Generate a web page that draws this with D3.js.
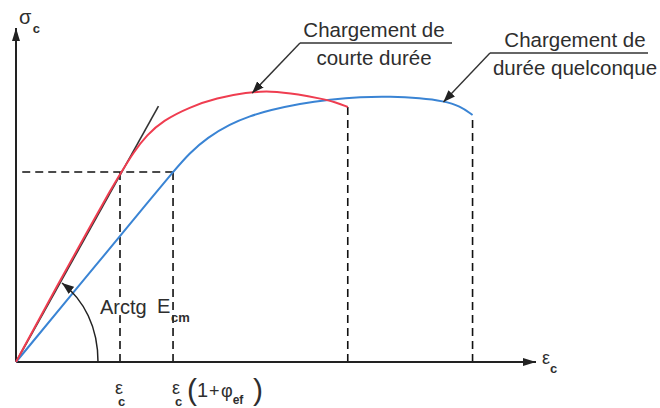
<!DOCTYPE html>
<html>
<head>
<meta charset="utf-8">
<script src="https://cdnjs.cloudflare.com/ajax/libs/d3/7.8.5/d3.min.js"></script>
<style>
body { margin: 0; background: #fff; }
text { font-family: "Liberation Sans", Arial, sans-serif; fill: #2e2e2e; }
</style>
</head>
<body>
<div id="svg-container"></div>
<script>
// strain (per mille) and stress (MPa)
let shortStrain = [0, 0.41, 0.71, 0.9, 1.02, 1.13, 1.26, 1.41, 1.67, 1.93, 2.22, 2.44, 2.73, 2.92, 3.07, 3.19];
let shortStress = [0, 11.83, 20.21, 25.5, 28.59, 31.4, 34.0, 36.1, 38.17, 39.52, 40.35, 40.6, 40.05, 39.45, 38.92, 38.17];
let longStrain = [0, 0.81, 1.3, 1.51, 1.67, 1.84, 2.06, 2.25, 2.44, 2.73, 3.02, 3.31, 3.6, 3.89, 4.11, 4.27, 4.39];
let longStress = [0, 15.27, 24.5, 28.44, 31.3, 33.6, 35.63, 36.83, 37.7, 38.7, 39.3, 39.68, 39.75, 39.5, 39.07, 38.32, 36.98];
let tangentStrain = [0, 1.37];
let tangentStress = [0, 38.3];
let dropStrain = [1.0, 1.51, 3.19, 4.39];
let dropStress = [28.44, 28.44, 38.17, 36.98];
let levelStrain = [0.06, 1.51];
let levelStress = 28.44;

let w = 660;
let h = 408;

let svg = d3.select('#svg-container').
append('svg').
attr('width', w).
attr('height', h);

let x = d3.scaleLinear().domain([0, 5]).range([16, 536]);
let y = d3.scaleLinear().domain([0, 50]).range([362, 28]);

let defs = svg.append('defs');
function marker(id, len, wid) {
  defs.append('marker').
  attr('id', id).
  attr('markerUnits', 'userSpaceOnUse').
  attr('markerWidth', len).
  attr('markerHeight', wid).
  attr('refX', len).
  attr('refY', wid / 2).
  attr('orient', 'auto').
  append('path').
  attr('d', 'M0,0 L' + len + ',' + wid / 2 + ' L0,' + wid + ' z').
  attr('fill', '#222');
}
marker('axisHead', 13, 8);
marker('leadHead', 12, 9);

// dashed guides
svg.append('line').
attr('x1', x(levelStrain[0])).
attr('x2', x(levelStrain[1])).
attr('y1', y(levelStress)).
attr('y2', y(levelStress)).
attr('stroke', '#111').
attr('stroke-width', 1.6).
attr('stroke-dasharray', '8,5');

svg.selectAll('.drop').
data(dropStrain).
join('line').
attr('class', 'drop').
attr('x1', d => x(d)).
attr('x2', d => x(d)).
attr('y1', y(0)).
attr('y2', (d, i) => y(dropStress[i])).
attr('stroke', '#111').
attr('stroke-width', 1.6).
attr('stroke-dasharray', '8,5');

// axes
svg.append('line').
attr('x1', x(0)).attr('y1', y(0)).
attr('x2', x(0)).attr('y2', y(50)).
attr('stroke', '#222').attr('stroke-width', 2).
attr('marker-end', 'url(#axisHead)');

svg.append('line').
attr('x1', x(0)).attr('y1', y(0)).
attr('x2', x(5)).attr('y2', y(0)).
attr('stroke', '#222').attr('stroke-width', 2).
attr('marker-end', 'url(#axisHead)');

let line = d3.line().
x(d => x(d[0])).
y(d => y(d[1])).
curve(d3.curveBasis);

// tangent
svg.append('line').
attr('x1', x(tangentStrain[0])).attr('y1', y(tangentStress[0])).
attr('x2', x(tangentStrain[1])).attr('y2', y(tangentStress[1])).
attr('stroke', '#333').attr('stroke-width', 1.6);

svg.append('path').
attr('d', line(longStrain.map((d, i) => [d, longStress[i]]))).
attr('fill', 'none').
attr('stroke', '#3a84d4').
attr('stroke-width', 2);

svg.append('path').
attr('d', line(shortStrain.map((d, i) => [d, shortStress[i]]))).
attr('fill', 'none').
attr('stroke', '#ef3d50').
attr('stroke-width', 2);

// angle arrow
let ox = x(0), oy = y(0);
svg.append('path').
attr('d', 'M' + (ox + 82) + ',' + oy + ' C' + (ox + 82) + ',' + (oy - 35) + ' ' + (ox + 68) + ',' + (oy - 62) + ' ' + (ox + 46) + ',' + (oy - 79)).
attr('fill', 'none').
attr('stroke', '#222').
attr('stroke-width', 1.5).
attr('marker-end', 'url(#leadHead)');

// callouts
function callout(lines, cx, base, ux0, ux1, uy, tip) {
  svg.append('line').
  attr('x1', ux0).attr('x2', ux1).attr('y1', uy).attr('y2', uy).
  attr('stroke', '#333').attr('stroke-width', 1.4);
  svg.append('line').
  attr('x1', ux0).attr('y1', uy).
  attr('x2', tip[0]).attr('y2', tip[1]).
  attr('stroke', '#333').attr('stroke-width', 1.4).
  attr('marker-end', 'url(#leadHead)');
  svg.selectAll(null).
  data(lines).
  join('text').
  attr('x', cx).
  attr('y', (d, i) => base + i * 28).
  attr('text-anchor', 'middle').
  style('font-size', '20.5px').
  text(d => d);
}
callout(['Chargement de', 'courte durée'], 374, 37, 300, 452, 43, [x(2.27), y(40.4) + 1]);
callout(['Chargement de', 'durée quelconque'], 575, 47, 490, 648, 53, [x(4.11), y(39.07) + 1]);

// symbol with subscript, one text element
function sub(main, s, px, py, mainSize, subDx, subDy) {
  let t = svg.append('text').attr('x', px).attr('y', py);
  t.append('tspan').style('font-size', mainSize + 'px').text(main);
  t.append('tspan').attr('dx', subDx).attr('dy', subDy).
  style('font-size', '13px').style('font-weight', 'bold').text(s);
}
sub('σ', 'c', 19, 24, 20, 1.5, 9);
sub('ε', 'c', 542, 364, 18, 0, 9);
sub('ε', 'c', x(1.0) - 5, 394, 18, -5, 12);
sub('ε', 'c', x(1.51) - 1, 394, 18, -5, 12);
sub('E', 'cm', 157, 313, 20, 0.7, 9);

svg.append('text').attr('x', 100).attr('y', 314).
style('font-size', '20px').
attr('stroke', '#fff').attr('stroke-width', 5).attr('paint-order', 'stroke').
text('Arctg');

// (1 + φef)
let g2 = svg.append('g');
g2.append('text').attr('x', 187).attr('y', 400).style('font-size', '30px').style('font-weight', '300').text('(');
g2.append('text').attr('x', 197).attr('y', 397).style('font-size', '20px').text('1');
g2.append('text').attr('x', 209).attr('y', 397).style('font-size', '18px').text('+');
g2.append('text').attr('x', 221).attr('y', 397).
call(t => t.append('tspan').style('font-size', '18px').text('φ')).
call(t => t.append('tspan').attr('dy', 7).style('font-size', '12px').style('font-weight', 'bold').text('ef'));
g2.append('text').attr('x', 253).attr('y', 400).style('font-size', '30px').style('font-weight', '300').text(')');
</script>
</body>
</html>
